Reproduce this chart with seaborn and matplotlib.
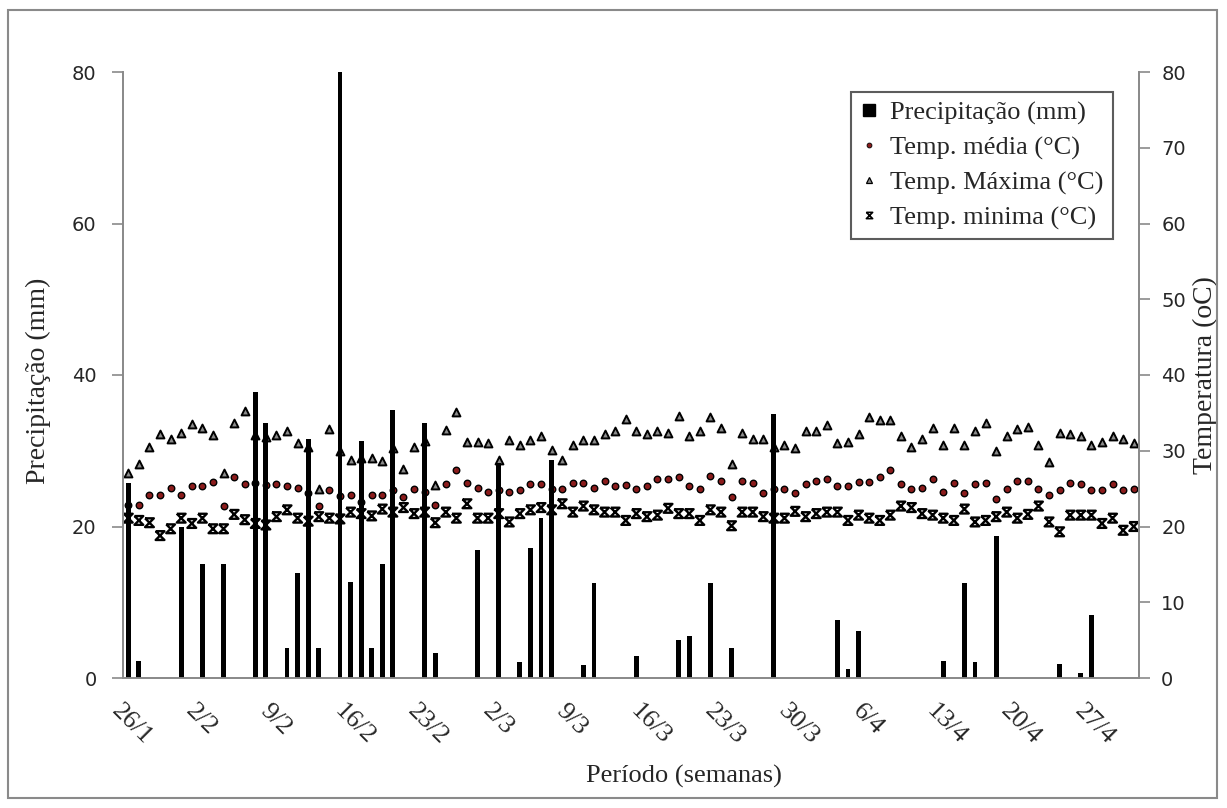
import numpy as np
import pandas as pd
import matplotlib
matplotlib.use("Agg")
import matplotlib.pyplot as plt
from matplotlib.path import Path
from matplotlib.lines import Line2D
from matplotlib.patches import Rectangle
import seaborn as sns

# ---------------- data ----------------
n_days = 96
rain_days = [0, 1, 5, 7, 9, 12, 13, 15, 16, 17, 18, 20, 21, 22, 23, 24, 25, 28, 29,
             33, 35, 37, 38, 39, 40, 43, 44, 48, 52, 53, 55, 57, 61, 67, 68, 69,
             77, 79, 80, 82, 88, 90, 91]
rain_mm = [25.8, 2.3, 20.0, 15.1, 15.1, 37.7, 33.6, 4.0, 13.9, 31.5, 4.0, 80.0, 12.7, 31.3,
           3.9, 15.0, 35.4, 33.7, 3.3, 16.9, 28.4, 2.1, 17.1, 21.1, 28.8, 1.7, 12.6, 2.9,
           5.0, 5.6, 12.6, 4.0, 34.8, 7.6, 1.2, 6.2, 2.3, 12.6, 2.1, 18.8, 1.9, 0.7, 8.3]

temp_max = [27.0, 28.2, 30.5, 32.2, 31.6, 32.4, 33.5, 33.0, 32.1, 27.1,
            33.6, 35.2, 32.1, 31.8, 32.1, 32.6, 31.0, 30.5, 25.0, 32.9,
            30.0, 28.8, 29.0, 29.1, 28.6, 30.3, 27.6, 30.5, 31.3, 25.5,
            32.7, 35.1, 31.2, 31.2, 31.0, 28.8, 31.4, 30.7, 31.4, 32.0,
            30.1, 28.8, 30.8, 31.4, 31.4, 32.2, 32.6, 34.2, 32.6, 32.2,
            32.6, 32.4, 34.6, 32.0, 32.6, 34.4, 33.0, 28.3, 32.4, 31.6,
            31.6, 30.5, 30.7, 30.3, 32.6, 32.6, 33.4, 31.0, 31.2, 32.2,
            34.5, 34.1, 34.1, 31.9, 30.5, 31.5, 33.0, 30.7, 33.0, 30.8,
            32.6, 33.6, 30.0, 31.9, 32.9, 33.2, 30.7, 28.5, 32.4, 32.2,
            31.9, 30.7, 31.2, 32.0, 31.6, 31.0]

temp_med = [22.9, 22.9, 24.1, 24.1, 25.1, 24.1, 25.3, 25.3, 25.9, 22.7,
            26.5, 25.6, 25.8, 25.5, 25.6, 25.3, 25.1, 24.4, 22.7, 24.8,
            24.0, 24.1, 23.2, 24.1, 24.1, 24.8, 23.9, 24.9, 24.5, 22.9,
            25.6, 27.5, 25.8, 25.1, 24.6, 24.8, 24.6, 24.8, 25.6, 25.6,
            25.0, 24.9, 25.8, 25.8, 25.1, 26.0, 25.3, 25.5, 24.9, 25.3,
            26.3, 26.3, 26.5, 25.3, 25.0, 26.7, 26.0, 23.9, 26.0, 25.8,
            24.4, 25.0, 24.9, 24.4, 25.6, 26.0, 26.3, 25.3, 25.3, 25.9,
            25.9, 26.5, 27.4, 25.6, 24.9, 25.1, 26.3, 24.6, 25.8, 24.4,
            25.6, 25.8, 23.6, 25.0, 26.0, 26.0, 25.0, 24.1, 24.8, 25.8,
            25.6, 24.8, 24.8, 25.6, 24.8, 25.0]

temp_min = [21.1, 20.8, 20.5, 18.8, 19.7, 21.1, 20.4, 21.1, 19.7, 19.7,
            21.6, 20.9, 20.4, 20.2, 21.3, 22.2, 21.1, 20.7, 21.3, 21.1,
            21.0, 21.9, 21.7, 21.4, 22.3, 21.9, 22.5, 21.7, 21.9, 20.5,
            21.9, 21.1, 23.0, 21.1, 21.1, 21.7, 20.6, 21.7, 22.2, 22.5,
            22.2, 23.0, 21.9, 22.7, 22.2, 21.9, 21.9, 20.8, 21.7, 21.3,
            21.5, 22.4, 21.7, 21.7, 20.8, 22.2, 21.9, 20.1, 21.9, 21.9,
            21.3, 21.1, 21.1, 22.0, 21.3, 21.7, 21.9, 21.9, 20.8, 21.5,
            21.1, 20.8, 21.5, 22.7, 22.5, 21.7, 21.5, 21.1, 20.8, 22.3,
            20.6, 20.8, 21.3, 21.9, 21.1, 21.6, 22.7, 20.6, 19.3, 21.5,
            21.5, 21.5, 20.4, 21.1, 19.5, 20.0]

week_labels = ['26/1', '2/2', '9/2', '16/2', '23/2', '2/3', '9/3', '16/3',
               '23/3', '30/3', '6/4', '13/4', '20/4', '27/4']

labels = ['Precipitação (mm)', 'Temp. média (°C)', 'Temp. Máxima (°C)', 'Temp. minima (°C)']

# ---------------- build table ----------------
days = np.arange(n_days)
precip = np.zeros(n_days)
precip[rain_days] = rain_mm
df = pd.DataFrame({'dia': days, 'precip': precip, 'tmax': temp_max,
                   'tmed': temp_med, 'tmin': temp_min})

sns.set_style('white')
plt.rcParams['font.family'] = ['Liberation Serif', 'DejaVu Serif']

W, H = 1227, 808
fig = plt.figure(figsize=(W / 100, H / 100), dpi=100)
L, R, T, B = 123, 1139, 72, 678
ax = fig.add_axes([L / W, 1 - B / H, (R - L) / W, (B - T) / H])

hourglass = Path([(-1, 1), (1, 1), (-1, -1), (1, -1), (-1, 1)],
                 [Path.MOVETO, Path.LINETO, Path.LINETO, Path.LINETO, Path.LINETO])

# temperature markers (drawn below bars)
sns.scatterplot(data=df, x='dia', y='tmin', marker=hourglass, s=40, color='none',
                edgecolor='black', linewidth=1.7, ax=ax, zorder=2)
sns.scatterplot(data=df, x='dia', y='tmax', marker='^', s=32, color='#8c8c8c',
                edgecolor='black', linewidth=1.4, ax=ax, zorder=2)
sns.scatterplot(data=df, x='dia', y='tmed', marker='o', s=22, color='#8b1c1c',
                edgecolor='black', linewidth=1.0, ax=ax, zorder=2)

# precipitation bars
sns.barplot(data=df, x='dia', y='precip', color='black', saturation=1, width=0.46,
            errorbar=None, native_scale=True, linewidth=0, ax=ax, zorder=3)
bw = 0.46
for p in ax.patches:
    cx = p.get_x() + p.get_width() / 2
    p.set_width(bw)
    p.set_x(cx - bw / 2)
    p.set_zorder(3)

ax.set_xlim(-0.5, n_days - 0.5)
ax.set_ylim(0, 80)
ax.set_yticks(np.arange(0, 81, 20))
ax.set_xticks(np.arange(len(week_labels)) * 7 - 0.5)
ax.set_xticklabels(week_labels, rotation=-45, ha='left', va='top',
                   rotation_mode='anchor', fontsize=19)

grey = '#8a8a8a'
for side in ['left', 'right', 'bottom']:
    ax.spines[side].set_color(grey)
    ax.spines[side].set_linewidth(1.3)
ax.spines['top'].set_visible(False)
ax.tick_params(axis='x', direction='out', length=7, color=grey, width=1.2, pad=9)
ax.tick_params(axis='y', direction='out', length=8, color=grey, width=1.2, pad=11)
for t in ax.get_yticklabels():
    t.set_fontfamily('DejaVu Sans')
    t.set_fontsize(14)

ax.set_xlabel('Período (semanas)', fontsize=19)
ax.xaxis.set_label_coords(0.552, -0.143)
ax.set_ylabel('Precipitação (mm)', fontsize=20)
ax.yaxis.set_label_coords(-0.071, 0.49)

ax2 = ax.twinx()
ax2.set_ylim(0, 80)
ax2.set_yticks(np.arange(0, 81, 10))
ax2.tick_params(axis='y', direction='out', length=8, color=grey, width=1.2, pad=8)
for t in ax2.get_yticklabels():
    t.set_fontfamily('DejaVu Sans')
    t.set_fontsize(14)
for side in ['left', 'right', 'bottom']:
    ax2.spines[side].set_color(grey)
    ax2.spines[side].set_linewidth(1.3)
ax2.spines['top'].set_visible(False)
ax2.set_ylabel('Temperatura (oC)', fontsize=20)
ax2.yaxis.set_label_coords(1.053, 0.5)

handles = [
    Line2D([], [], linestyle='none', marker='s', markersize=9, color='black'),
    Line2D([], [], linestyle='none', marker='o', markersize=3.5,
           markerfacecolor='#8b1c1c', markeredgecolor='black', markeredgewidth=0.6),
    Line2D([], [], linestyle='none', marker='^', markersize=4.5,
           markerfacecolor='#8c8c8c', markeredgecolor='black', markeredgewidth=0.9),
    Line2D([], [], linestyle='none', marker=hourglass, markersize=4.5,
           markerfacecolor='none', markeredgecolor='black', markeredgewidth=1.2),
]
leg = ax2.legend(handles, labels, loc='upper right', bbox_to_anchor=(0.9744, 0.967),
                 borderaxespad=0, fontsize=19, frameon=True, fancybox=False,
                 handlelength=0.7, handletextpad=0.45, borderpad=0.35,
                 labelspacing=0.42)
leg.get_frame().set_edgecolor('#333333')
leg.get_frame().set_linewidth(1.5)

fig.patches.append(Rectangle((8 / W, 10 / H), (1217 - 8) / W, (798 - 10) / H,
                             transform=fig.transFigure, fill=False,
                             edgecolor=grey, linewidth=1.5))

fig.savefig('out.png', dpi=100, facecolor='white')
